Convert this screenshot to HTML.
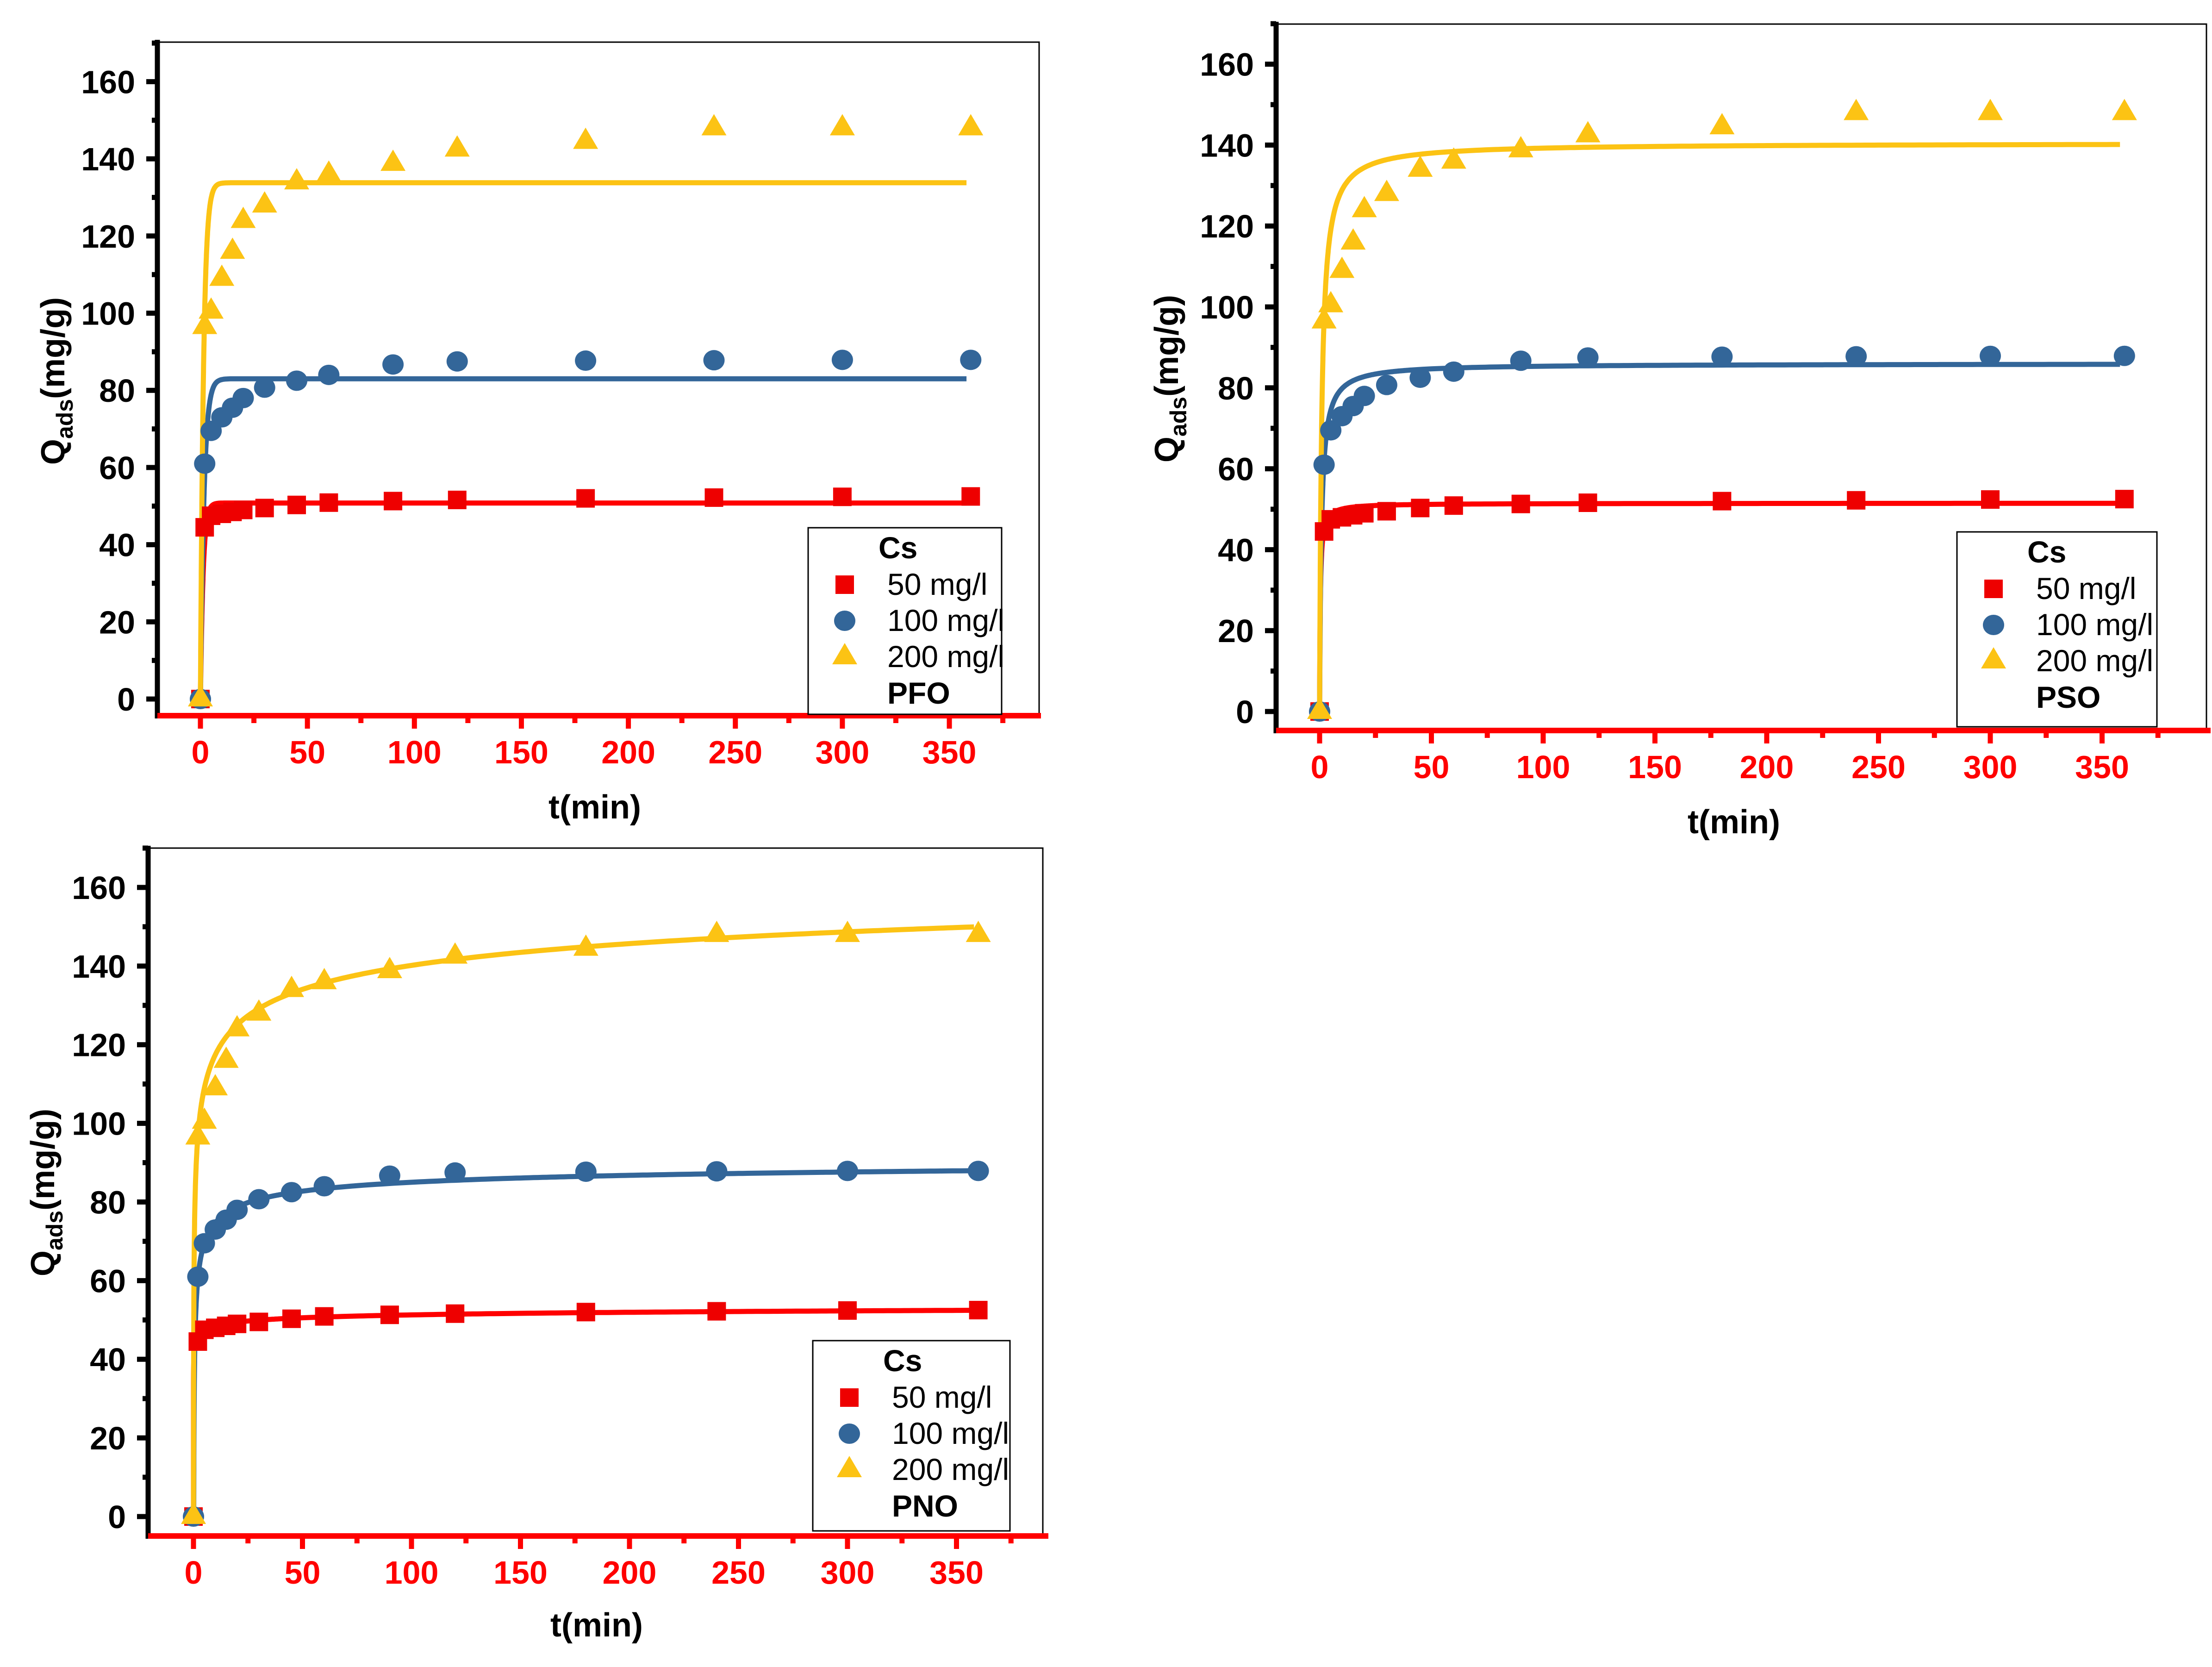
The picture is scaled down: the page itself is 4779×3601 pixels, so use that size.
<!DOCTYPE html>
<html><head><meta charset="utf-8"><style>html,body{margin:0;padding:0;background:#fff}svg{display:block}</style></head>
<body>
<svg id="fig" xmlns="http://www.w3.org/2000/svg" width="4779" height="3601" viewBox="0 0 4779 3601" font-family="Liberation Sans, Arial, sans-serif"></svg>
<script>
// ---- data ----
const times = [0,2,5,10,15,20,30,45,60,90,120,180,240,300,360];
const q50  = [0,44.5,47.5,48,48.5,49,49.5,50.3,50.9,51.3,51.6,52,52.2,52.4,52.5];
const q100 = [0,61,69.5,73,75.5,78,80.7,82.5,84,86.7,87.5,87.7,87.8,87.9,87.9];
const q200 = [0,96.5,100.5,109,116,124,128,134,136,138.8,142.5,144.5,148,148,148];
const xTicks = [0,50,100,150,200,250,300,350];
const yTicks = [0,20,40,60,80,100,120,140,160];
const seriesNames = ['50 mg/l','100 mg/l','200 mg/l'];
const pfoQe = [50.8,83,133.8];
const pfoK = [0.8,0.6,0.7];
const psoQe = [51.5,86,140.5];
const psoK = [0.067,0.015,0.0079];
const pnoQe = [58,93,200];
const pnoC = [13.4,41.9,114];
const pnoP = [0.15,0.36,0.14];
const modelNames = ['PFO','PSO','PNO'];

const NS='http://www.w3.org/2000/svg';
const svg=document.getElementById('fig');
function mk(tag,attrs,parent){const e=document.createElementNS(NS,tag);for(const k in attrs)e.setAttribute(k,attrs[k]);(parent||svg).appendChild(e);return e;}
const colors=['#EE0000','#336699','#FCC314'];
const lineColors=['#FF0000','#336699','#FCC314'];
const allQ=[q50,q100,q200];

const panels=[
 {ax:340,x0:433,px:4.623,y0:1510,py:8.335,top:91,right:2245,redY:1546,redEnd:2249,lg:[1746,1140,2164,1543],ylx:139,yly:823,xlx:1285,xly:1768},
 {ax:2757,x0:2851,px:4.83,y0:1537,py:8.74,top:52,right:4767,redY:1578,redEnd:4776,lg:[4228,1149,4660,1570],ylx:2545,yly:818,xlx:3746,xly:1800},
 {ax:320,x0:418,px:4.71,y0:3276,py:8.494,top:1832,right:2253,redY:3318,redEnd:2265,lg:[1756,2896,2182,3307],ylx:117,yly:2576,xlx:1289,xly:3535}
];
function model(m,i,t){
 if(m===0) return pfoQe[i]*(1-Math.exp(-pfoK[i]*t));
 if(m===1){const v=psoQe[i]*psoK[i]*t;return psoQe[i]*v/(1+v);}
 if(t<=0) return 0;
 return Math.max(0,pnoQe[i]-pnoC[i]*Math.pow(t,-pnoP[i]));
}
panels.forEach((P,m)=>{
 const g=mk('g',{});
 
 
 const X=t=>P.x0+t*P.px, Y=q=>P.y0-q*P.py;
 const fr=mk('polyline',{points:`${P.ax},${P.top} ${P.right},${P.top} ${P.right},${P.redY}`,fill:'none',stroke:'#000','stroke-width':3},g);
 
 const ya=mk('line',{x1:P.ax,y1:P.top-5,x2:P.ax,y2:P.redY+6,stroke:'#000','stroke-width':11},g);
 
 for(let v=0;v<=170;v+=10){
  const major=v%20===0;
  mk('line',{x1:P.ax-(major?24:12),y1:Y(v),x2:P.ax,y2:Y(v),stroke:'#000','stroke-width':11},g);
 }
 yTicks.forEach(v=>{const t=mk('text',{x:P.ax-48,y:Y(v)+25,'font-size':70,'font-weight':'bold','text-anchor':'end',fill:'#000'},g);t.textContent=v;
  });
 const xa=mk('line',{x1:P.ax,y1:P.redY,x2:P.redEnd,y2:P.redY,stroke:'#FF0000','stroke-width':12},g);
 
 for(let v=0;v<=375;v+=25){
  const major=v%50===0;
  mk('line',{x1:X(v),y1:P.redY,x2:X(v),y2:P.redY+(major?28:16),stroke:'#FF0000','stroke-width':11},g);
 }
 xTicks.forEach(v=>{const t=mk('text',{x:X(v),y:P.redY+103,'font-size':70,'font-weight':'bold','text-anchor':'middle',fill:'#FF0000'},g);t.textContent=v;
  });
 const yl=mk('text',{x:0,y:0,'font-size':72,'font-weight':'bold','text-anchor':'middle',transform:`translate(${P.ylx},${P.yly}) rotate(-90)`},g);
 yl.innerHTML='Q<tspan font-size="50" dy="18">ads</tspan><tspan dy="-18">(mg/g)</tspan>';
 
 const xl=mk('text',{x:P.xlx,y:P.xly,'font-size':72,'font-weight':'bold','text-anchor':'middle'},g);
 xl.textContent='t(min)';
 
 [0,1,2].forEach(i=>{
  let pts=[];
  for(let t=0;t<=360;t+=(t<5?0.02:(t<40?0.5:2))) pts.push(X(t).toFixed(1)+','+Y(model(m,i,t)).toFixed(1));
  const pl=mk('polyline',{points:pts.join(' '),fill:'none',stroke:lineColors[i],'stroke-width':11,'stroke-linejoin':'round'},g);
  
  
 });
 function marker(i,cx,cy,parent){
  let e;
  if(i===0) e=mk('rect',{x:cx-20,y:cy-20,width:40,height:40,fill:colors[0]},parent);
  else if(i===1) e=mk('ellipse',{cx:cx,cy:cy,rx:23,ry:22,fill:colors[1]},parent);
  else e=mk('polygon',{points:`${cx},${cy-30} ${cx+27},${cy+16} ${cx-27},${cy+16}`,fill:colors[2]},parent);
  return e;
 }
 [0,1,2].forEach(i=>{
  times.forEach((t,j)=>{const e=marker(i,X(t),Y(allQ[i][j]),g);
   
   });
 });
 const [L,T,R,B]=P.lg;
 const lg=mk('g',{},g);
 
 mk('rect',{x:L,y:T,width:R-L,height:B-T,fill:'#fff',stroke:'#000','stroke-width':3},lg);
 const cs=mk('text',{x:L+152,y:T+66,'font-size':66,'font-weight':'bold'},lg);cs.textContent='Cs';
 
 [0,1,2].forEach(i=>{
  const by=T+145+i*78;
  const mm=marker(i,L+79,by-22,lg);
  
  const tx=mk('text',{x:L+171,y:by,'font-size':66},lg);tx.textContent=seriesNames[i];
  
 });
 const mt=mk('text',{x:L+171,y:T+380,'font-size':66,'font-weight':'bold'},lg);mt.textContent=modelNames[m];
 
});
</script>
</body></html>
